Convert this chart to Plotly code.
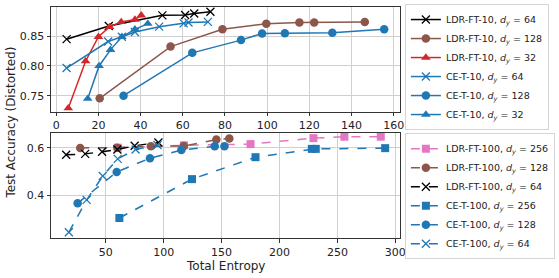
import plotly.graph_objects as go

# ---- data: top panel (10) ----
ldr10_64_x = [4.9, 24.9, 50.3, 61.1, 65.4, 73.1]
ldr10_64_y = [0.845, 0.867, 0.885, 0.8855, 0.888, 0.891]
ldr10_128_x = [20.6, 54.2, 78.8, 99.6, 115.3, 122.3, 146.3]
ldr10_128_y = [0.7457, 0.8325, 0.8615, 0.871, 0.873, 0.873, 0.874]
ldr10_32_x = [5.7, 13.9, 20.0, 25.3, 30.8, 37.3, 40.3]
ldr10_32_y = [0.729, 0.808, 0.849, 0.8655, 0.874, 0.878, 0.885]
ce10_64_x = [4.9, 24.6, 31.1, 37.3, 48.8, 60.4, 62.7, 71.9]
ce10_64_y = [0.7965, 0.841, 0.849, 0.857, 0.866, 0.8715, 0.873, 0.874]
ce10_128_x = [31.9, 64.5, 87.6, 97.6, 108.4, 130.9, 155.5]
ce10_128_y = [0.750, 0.822, 0.8434, 0.8545, 0.855, 0.8556, 0.8616]
ce10_32_x = [14.9, 20.3, 25.7, 31.1, 37.3, 43.4]
ce10_32_y = [0.745, 0.800, 0.827, 0.849, 0.8615, 0.871]

# ---- data: bottom panel (100) ----
ldr100_256_x = [60.4, 117.5, 175.0, 229.3, 256.0, 287.4]
ldr100_256_y = [0.600, 0.610, 0.615, 0.640, 0.646, 0.646]
ldr100_128_x = [28.0, 60.0, 89.0, 117.4, 145.5, 156.7]
ldr100_128_y = [0.599, 0.600, 0.606, 0.607, 0.634, 0.639]
ldr100_64_x = [15.9, 32.3, 46.9, 60.1, 75.0, 95.5]
ldr100_64_y = [0.570, 0.574, 0.583, 0.592, 0.608, 0.622]
ce100_256_x = [61.8, 124.5, 179.3, 227.9, 231.3, 291.2]
ce100_256_y = [0.305, 0.468, 0.560, 0.595, 0.595, 0.598]
ce100_128_x = [25.8, 59.5, 88.2, 115.3, 144.1, 152.5]
ce100_128_y = [0.367, 0.498, 0.556, 0.590, 0.606, 0.606]
ce100_64_x = [18.2, 33.6, 47.5, 60.4, 75.8, 94.7]
ce100_64_y = [0.245, 0.381, 0.481, 0.553, 0.592, 0.611]

top_ticks_x = [0, 20, 40, 60, 80, 100, 120, 140, 160]
top_ticks_y = [0.75, 0.80, 0.85]
bot_ticks_x = [50, 100, 150, 200, 250, 300]
bot_ticks_y = [0.4, 0.6]

BLACK = "#000000"
BROWN = "#8c564b"
RED = "#d62728"
BLUE = "#1f77b4"
PINK = "#e377c2"

def lab(name, d):
    return f"{name}, <i>d</i><sub><i>y</i></sub> = {d}"

fig = go.Figure()

def add(x, y, color, symbol, size, name, axis, legend, dash="solid", width=1.5):
    fig.add_trace(go.Scatter(
        x=x, y=y, mode="lines+markers", name=name,
        line=dict(color=color, width=width, dash=dash),
        marker=dict(color=color, symbol=symbol, size=size,
                    line=dict(color=color, width=1.3 if symbol == "x-thin" else 0)),
        xaxis="x" if axis == 1 else "x2", yaxis="y" if axis == 1 else "y2",
        legend=legend,
    ))

add(ldr10_64_x, ldr10_64_y, BLACK, "x-thin", 8, lab("LDR-FT-10", 64), 1, "legend")
add(ldr10_128_x, ldr10_128_y, BROWN, "circle", 8.5, lab("LDR-FT-10", 128), 1, "legend")
add(ldr10_32_x, ldr10_32_y, RED, "triangle-up", 8.5, lab("LDR-FT-10", 32), 1, "legend")
add(ce10_64_x, ce10_64_y, BLUE, "x-thin", 8, lab("CE-T-10", 64), 1, "legend")
add(ce10_128_x, ce10_128_y, BLUE, "circle", 8.5, lab("CE-T-10", 128), 1, "legend")
add(ce10_32_x, ce10_32_y, BLUE, "triangle-up", 8.5, lab("CE-T-10", 32), 1, "legend")

add(ldr100_256_x, ldr100_256_y, PINK, "square", 8, lab("LDR-FT-100", 256), 2, "legend2", "dash")
add(ldr100_128_x, ldr100_128_y, BROWN, "circle", 8.5, lab("LDR-FT-100", 128), 2, "legend2", "dash")
add(ldr100_64_x, ldr100_64_y, BLACK, "x-thin", 8, lab("LDR-FT-100", 64), 2, "legend2", "dash")
add(ce100_256_x, ce100_256_y, BLUE, "square", 8, lab("CE-T-100", 256), 2, "legend2", "dash")
add(ce100_128_x, ce100_128_y, BLUE, "circle", 8.5, lab("CE-T-100", 128), 2, "legend2", "dash")
add(ce100_64_x, ce100_64_y, BLUE, "x-thin", 8, lab("CE-T-100", 64), 2, "legend2", "dash")

W, H = 559, 278
L, R, T, B = 50.7, 408.0, 4.0, 238.3   # plot area in pixels
PW, PH = R - L, B - T

def px(v):  # pixel x -> paper x
    return (v - L) / PW

def py(v):  # pixel y -> paper y
    return (B - v) / PH

axis_common = dict(
    showline=True, mirror=True, linecolor="#333333", linewidth=1,
    showgrid=True, gridcolor="#d0d0d0", gridwidth=1,
    ticks="outside", ticklen=3.5, tickcolor="#333333",
    zeroline=False, tickfont=dict(size=11, color="#222222"),
)

legend_common = dict(
    bgcolor="rgba(255,255,255,0.8)", bordercolor="#d5d5d5", borderwidth=1,
    font=dict(size=9.5, color="#222222", family="DejaVu Sans"),
    xanchor="left", yanchor="top", tracegroupgap=0, itemwidth=30,
)

fig.update_layout(
    width=W, height=H,
    margin=dict(l=L, r=W - R, t=T, b=H - B, pad=0),
    paper_bgcolor="white", plot_bgcolor="white",
    font=dict(family="DejaVu Sans", color="#222222"),
    xaxis=dict(domain=[0, 1], range=[-2.5, 163], anchor="y",
               tickvals=top_ticks_x, **axis_common),
    yaxis=dict(domain=[py(110), 1], range=[0.7235, 0.899], anchor="x",
               tickvals=top_ticks_y, tickformat=".2f", **axis_common),
    xaxis2=dict(domain=[0, 1], range=[2.8, 304], anchor="y2",
                tickvals=bot_ticks_x, **axis_common),
    yaxis2=dict(domain=[0, py(131.7)], range=[0.221, 0.662], anchor="x2",
                tickvals=bot_ticks_y, tickformat=".1f", **axis_common),
    legend=dict(x=px(413), y=py(1), **legend_common),
    legend2=dict(x=px(413), y=py(132), **legend_common),
    showlegend=True,
    annotations=[
        dict(text="Test Accuracy (Distorted)", x=px(10), y=py(121), xref="paper", yref="paper",
             textangle=-90, showarrow=False, font=dict(size=12, color="#222222"),
             xanchor="center", yanchor="middle"),
        dict(text="Total Entropy", x=px(229), y=py(267), xref="paper", yref="paper",
             showarrow=False, font=dict(size=12, color="#222222"),
             xanchor="center", yanchor="middle"),
    ],
)

fig.write_html("out.html",
               config={"displayModeBar": False},
               post_script="document.body.style.margin='0';document.body.style.overflow='hidden';")
